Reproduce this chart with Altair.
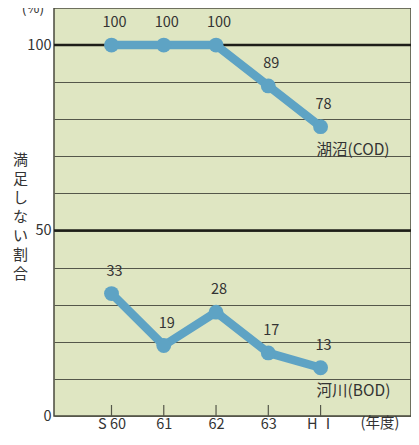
import json
import altair as alt
import pandas as pd

years = ["S 60", "61", "62", "63", "H Ⅰ"]
lake = [100, 100, 100, 89, 78]
river = [33, 19, 28, 17, 13]
series_names = ["湖沼(COD)", "河川(BOD)"]
heavy_lines = [50, 100]
y_title = ["満", "足", "し", "な", "い", "割", "合"]

rows = []
for name, vals in zip(series_names, [lake, river]):
    for i, v in enumerate(vals):
        rows.append({"series": name, "idx": i, "year": years[i], "value": v})
df = pd.DataFrame(rows)
idx_df = pd.DataFrame({"idx": list(range(len(years)))})
heavy_df = pd.DataFrame({"y": heavy_lines})
end_df = df[df["idx"] == len(years) - 1]

FONT = "Noto Sans CJK JP"
LINE = "#5ea3c4"
GRID = "#55574a"
TXT = "#333333"

W, H = 357, 408

xscale = alt.Scale(domain=[-1.1, 5.73], nice=False, zero=False)
yscale = alt.Scale(domain=[0, 110], nice=False)

label_expr = json.dumps(years, ensure_ascii=False) + "[datum.value]"

x_axis = alt.Axis(values=list(range(len(years))), labelExpr=label_expr, ticks=False,
                  domain=False, grid=False, title=None, labelFont=FONT, labelFontSize=14.5,
                  labelColor=TXT, labelPadding=1)
y_axis = alt.Axis(values=list(range(0, 101, 10)),
                  labelExpr="datum.value % 50 == 0 ? datum.label : ''",
                  ticks=False, domain=False, grid=True, gridColor=GRID, gridWidth=1,
                  gridOpacity=1, labelFont=FONT, labelFontSize=14.5, labelColor=TXT,
                  labelPadding=3, title=y_title, titleAngle=0, titleX=-34, titleY=144,
                  titleBaseline="top", titleAlign="center", titleFont=FONT,
                  titleFontSize=15, titleFontWeight="normal", titleColor=TXT,
                  titleLineHeight=19)

base_x = alt.X("idx:Q", scale=xscale, axis=x_axis)

grid_layer = alt.Chart(idx_df).mark_point(opacity=0).encode(
    x=base_x, y=alt.Y("idx:Q", scale=yscale, axis=y_axis)
)

heavy = alt.Chart(heavy_df).mark_rule(color="#1e1e18", strokeWidth=2.5).encode(
    y=alt.Y("y:Q", scale=yscale)
)

ticks = alt.Chart(idx_df).mark_rule(color=GRID, strokeWidth=1.2).encode(
    x=alt.X("idx:Q", scale=xscale), y=alt.value(H), y2=alt.value(H - 11)
)

lines = alt.Chart(df).mark_line(color=LINE, strokeWidth=8.5, strokeCap="round",
                                strokeJoin="round").encode(
    x=alt.X("idx:Q", scale=xscale), y=alt.Y("value:Q", scale=yscale),
    detail="series:N"
)
points = alt.Chart(df).mark_circle(color=LINE, size=220, opacity=1).encode(
    x=alt.X("idx:Q", scale=xscale), y=alt.Y("value:Q", scale=yscale)
)
vlabels = alt.Chart(df).mark_text(font=FONT, fontSize=14.5, color=TXT, dy=-22, dx=3).encode(
    x=alt.X("idx:Q", scale=xscale), y=alt.Y("value:Q", scale=yscale),
    text="value:Q"
)
slabels = alt.Chart(end_df).mark_text(font=FONT, fontSize=15.5, color=TXT, align="left",
                                      dx=-4, dy=23).encode(
    x=alt.X("idx:Q", scale=xscale), y=alt.Y("value:Q", scale=yscale),
    text="series:N"
)
pct = alt.Chart(idx_df.head(1)).mark_text(font=FONT, fontSize=14, color=TXT,
                                          text="(%)", baseline="middle").encode(
    x=alt.value(-21), y=alt.value(1)
)
nendo = alt.Chart(idx_df.head(1)).mark_text(font=FONT, fontSize=14.5, color=TXT,
                                            text="(年度)", baseline="middle").encode(
    x=alt.value(326), y=alt.value(H + 8)
)

chart = alt.layer(grid_layer, heavy, ticks, lines, points, vlabels, slabels, pct, nendo).properties(
    width=W, height=H,
    autosize=alt.AutoSizeParams(type="none"),
    padding={"left": 46, "top": 0, "right": 0, "bottom": 16},
    background="#ffffff",
).configure_view(fill="#dfe6c2", stroke="#4a4a3e", strokeWidth=1.5)

chart.save("out.html", embed_options={"renderer": "svg", "actions": False})
